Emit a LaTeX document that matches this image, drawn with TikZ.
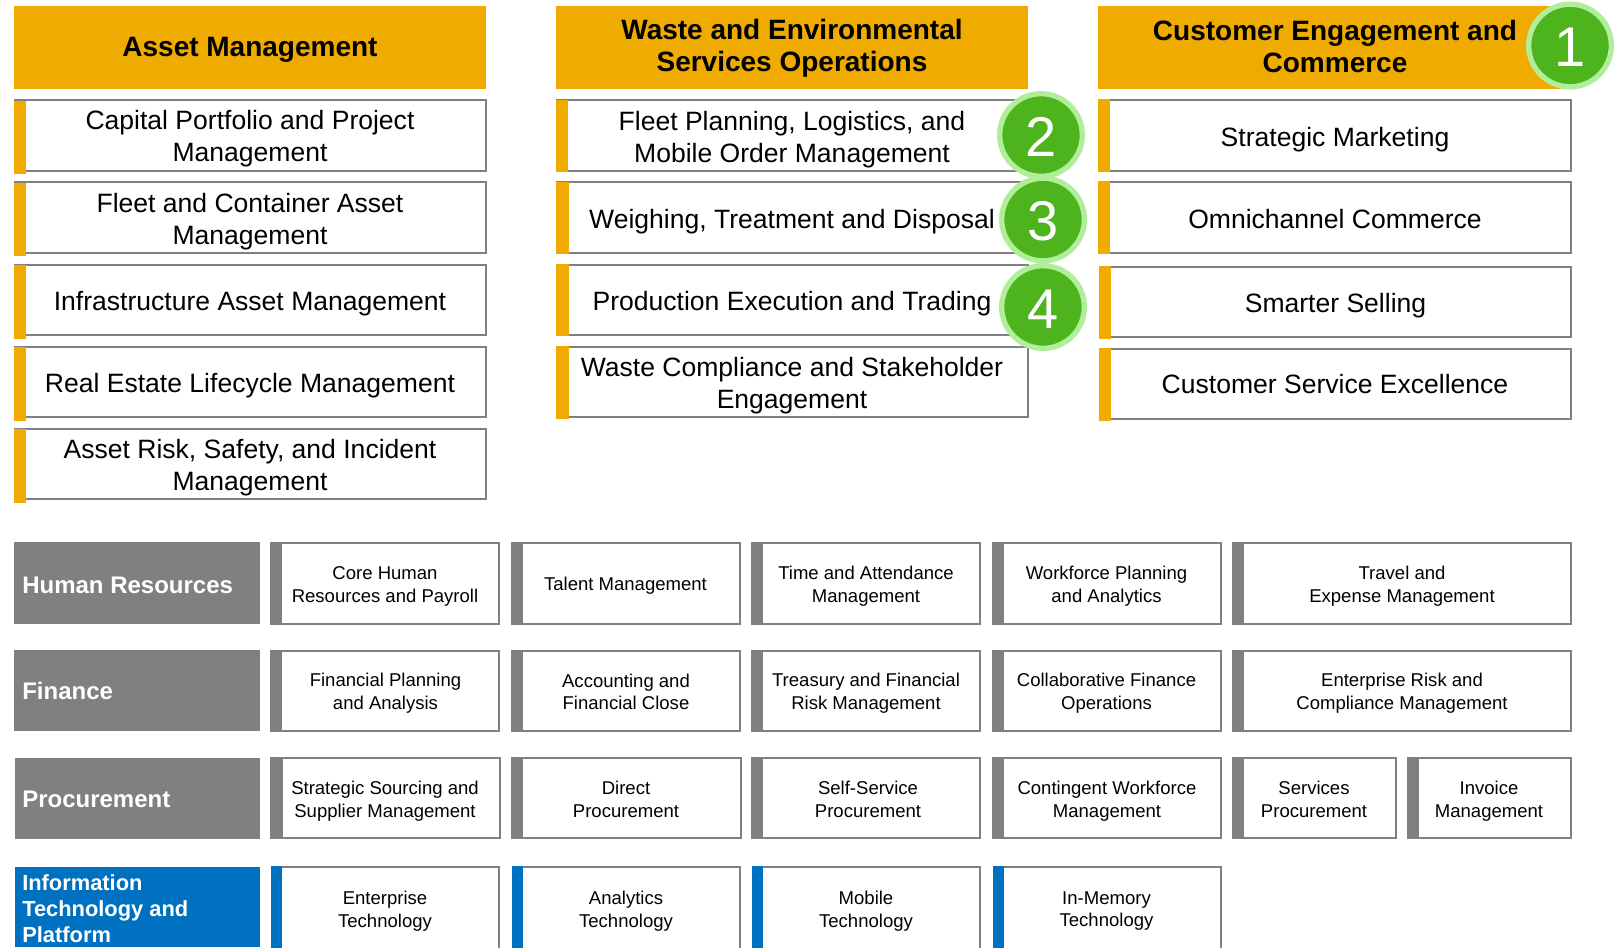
\documentclass[tikz,border=0pt]{standalone}
\usepackage{fontspec}
\setmainfont{Liberation Sans}
\definecolor{goldfill}{HTML}{F0AB00}
\definecolor{greyfill}{HTML}{808080}
\definecolor{bluefill}{HTML}{0070C0}
\definecolor{badgefill}{HTML}{4DB41E}
\definecolor{badgering}{HTML}{B1EE9B}
\tikzset{
  headlabel/.style={align=center,inner sep=0pt,font=\fontsize{21}{24}\selectfont\bfseries},
  toplabel/.style={align=center,inner sep=0pt,font=\fontsize{19.9}{24}\selectfont},
  celllabel/.style={align=center,inner sep=0pt,font=\fontsize{13.9}{17}\selectfont},
  sidelabel/.style={align=left,anchor=west,inner sep=0pt,text=white,font=\fontsize{18}{19.5}\selectfont\bfseries},
  boxline/.style={draw=greyfill,line width=2pt,fill=white},
  badge/.style={circle,fill=badgefill,draw=badgering,line width=4pt,minimum size=62pt,inner sep=0pt,text=white,text height=32.2pt,text depth=0pt,font=\fontsize{42}{42}\selectfont}
}
\begin{document}
\begin{tikzpicture}[x=0.75pt,y=-0.75pt]
\clip (0,0) rectangle (1624,947);

% asset management column
\fill[goldfill] (14,6) rectangle (486,89);
\node[headlabel] (assethead) at (250,50) {Asset Management};
\draw[boxline] (15,100) rectangle (486,171);
\fill[goldfill] (14,101) rectangle (26,174);
\node[toplabel] (capital) at (250,139) {Capital Portfolio and Project\\Management};
\draw[boxline] (15,182) rectangle (486,253);
\fill[goldfill] (14,183) rectangle (26,256);
\node[toplabel] (fleetasset) at (250,221.5) {Fleet and Container Asset\\Management};
\draw[boxline] (15,265) rectangle (486,335);
\fill[goldfill] (14,265) rectangle (26,339);
\node[toplabel] (infra) at (250,303.5) {Infrastructure Asset Management};
\draw[boxline] (15,347) rectangle (486,417);
\fill[goldfill] (14,347) rectangle (26,421);
\node[toplabel] (realestate) at (250,385.5) {Real Estate Lifecycle Management};
\draw[boxline] (15,429) rectangle (486,499);
\fill[goldfill] (14,429) rectangle (26,503);
\node[toplabel] (assetrisk) at (250,467.5) {Asset Risk, Safety, and Incident\\Management};

% waste and environmental column
\fill[goldfill] (556,6) rectangle (1028,89);
\node[headlabel] (wastehead) at (792,48.5) {Waste and Environmental\\Services Operations};
\draw[boxline] (557,100) rectangle (1028,171);
\fill[goldfill] (556,100) rectangle (568,172);
\node[toplabel] (fleetplan) at (792,139.5) {Fleet Planning, Logistics, and\\Mobile Order Management};
\draw[boxline] (557,182) rectangle (1028,253);
\fill[goldfill] (556,182) rectangle (569,254);
\node[toplabel] (weighing) at (792,222) {Weighing, Treatment and Disposal};
\draw[boxline] (557,265) rectangle (1028,335);
\fill[goldfill] (556,264) rectangle (569,336);
\node[toplabel] (production) at (792,303.5) {Production Execution and Trading};
\draw[boxline] (557,347) rectangle (1028,417);
\fill[goldfill] (556,346) rectangle (569,419);
\node[toplabel] (compliance) at (792,385.5) {Waste Compliance and Stakeholder\\Engagement};

% customer engagement column
\fill[goldfill] (1098,6) rectangle (1571,89);
\node[headlabel] (customerhead) at (1335,46) {Customer Engagement and\\Commerce};
\draw[boxline] (1099,100) rectangle (1571,171);
\fill[goldfill] (1098,99) rectangle (1110,172);
\node[toplabel] (marketing) at (1335,140) {Strategic Marketing};
\draw[boxline] (1099,182) rectangle (1571,253);
\fill[goldfill] (1098,181) rectangle (1110,254);
\node[toplabel] (omni) at (1335,219) {Omnichannel Commerce};
\draw[boxline] (1100,267) rectangle (1571,337);
\fill[goldfill] (1099,266) rectangle (1111,339);
\node[toplabel] (selling) at (1335.5,305.5) {Smarter Selling};
\draw[boxline] (1100,349) rectangle (1571,419);
\fill[goldfill] (1099,348) rectangle (1111,421);
\node[toplabel] (service) at (1335,384.5) {Customer Service Excellence};

% numbered badges
\node[badge] (badgeone) at (1570,45.5) {1};
\node[badge] (badgetwo) at (1041,135) {2};
\node[badge] (badgethree) at (1043,219.5) {3};
\node[badge] (badgefour) at (1043,307) {4};

% human resources row
\fill[greyfill] (14,542) rectangle (260,624);
\node[sidelabel] (hrlabel) at (22,585) {Human Resources};
\draw[boxline] (271,543) rectangle (499,624);
\fill[greyfill] (270,542) rectangle (282,625);
\node[celllabel] (corehr) at (385,586.5) {Core Human\\Resources and Payroll};
\draw[boxline] (512,543) rectangle (740,624);
\fill[greyfill] (511,542) rectangle (523,625);
\node[celllabel] (talent) at (625.5,586) {Talent Management};
\draw[boxline] (752,543) rectangle (980,624);
\fill[greyfill] (751,542) rectangle (763,625);
\node[celllabel] (timeatt) at (866,586.5) {Time and Attendance\\Management};
\draw[boxline] (993,543) rectangle (1221,624);
\fill[greyfill] (992,542) rectangle (1004,625);
\node[celllabel] (workforce) at (1106.5,586.5) {Workforce Planning\\and Analytics};
\draw[boxline] (1233,543) rectangle (1571,624);
\fill[greyfill] (1232,542) rectangle (1244,625);
\node[celllabel] (travel) at (1402,586.5) {Travel and\\Expense Management};

% finance row
\fill[greyfill] (14,650) rectangle (260,731);
\node[sidelabel] (financelabel) at (22,691) {Finance};
\draw[boxline] (271,651) rectangle (499,731);
\fill[greyfill] (270,650) rectangle (282,732);
\node[celllabel] (planning) at (385.5,693.5) {Financial Planning\\and Analysis};
\draw[boxline] (512,651) rectangle (740,731);
\fill[greyfill] (511,650) rectangle (523,732);
\node[celllabel] (accounting) at (626,692) {Accounting and\\Financial Close};
\draw[boxline] (752,651) rectangle (980,731);
\fill[greyfill] (751,650) rectangle (763,732);
\node[celllabel] (treasury) at (866,693.5) {Treasury and Financial\\Risk Management};
\draw[boxline] (993,651) rectangle (1221,731);
\fill[greyfill] (992,650) rectangle (1004,732);
\node[celllabel] (collab) at (1106.5,693.5) {Collaborative Finance\\Operations};
\draw[boxline] (1233,651) rectangle (1571,731);
\fill[greyfill] (1232,650) rectangle (1244,732);
\node[celllabel] (entrisk) at (1402,693.5) {Enterprise Risk and\\Compliance Management};

% procurement row
\fill[greyfill] (15,758) rectangle (260,839);
\node[sidelabel] (proclabel) at (22,799.5) {Procurement};
\draw[boxline] (271,758) rectangle (500,838);
\fill[greyfill] (270,757) rectangle (283,839);
\node[celllabel] (sourcing) at (385,801.5) {Strategic Sourcing and\\Supplier Management};
\draw[boxline] (512,758) rectangle (741,838);
\fill[greyfill] (511,757) rectangle (523,839);
\node[celllabel] (direct) at (626,799.5) {Direct\\Procurement};
\draw[boxline] (752,758) rectangle (980,838);
\fill[greyfill] (751,757) rectangle (763,839);
\node[celllabel] (selfserv) at (868,799.5) {Self-Service\\Procurement};
\draw[boxline] (993,758) rectangle (1221,838);
\fill[greyfill] (992,757) rectangle (1004,839);
\node[celllabel] (contingent) at (1107,801.5) {Contingent Workforce\\Management};
\draw[boxline] (1233,758) rectangle (1396,838);
\fill[greyfill] (1232,757) rectangle (1244,839);
\node[celllabel] (services) at (1314,799.5) {Services\\Procurement};
\draw[boxline] (1408,758) rectangle (1571,838);
\fill[greyfill] (1407,757) rectangle (1419,839);
\node[celllabel] (invoice) at (1489,801.5) {Invoice\\Management};

% information technology row
\fill[bluefill] (15,867) rectangle (260,947);
\node[sidelabel,font=\fontsize{16.4}{19.5}\selectfont\bfseries] (itlabel) at (22,909) {Information\\Technology and\\Platform};
\draw[boxline] (272,867) rectangle (499,960);
\fill[bluefill] (271,866) rectangle (282,960);
\node[celllabel] (enterprise) at (385,911) {Enterprise\\Technology};
\draw[boxline] (513,867) rectangle (740,960);
\fill[bluefill] (512,866) rectangle (523,960);
\node[celllabel] (analytics) at (626,911) {Analytics\\Technology};
\draw[boxline] (753,867) rectangle (980,960);
\fill[bluefill] (752,866) rectangle (763,960);
\node[celllabel] (mobile) at (866,911) {Mobile\\Technology};
\draw[boxline] (994,867) rectangle (1221,960);
\fill[bluefill] (993,866) rectangle (1004,960);
\node[celllabel] (inmemory) at (1106.5,911) {In-Memory\\Technology};

\end{tikzpicture}
\end{document}
